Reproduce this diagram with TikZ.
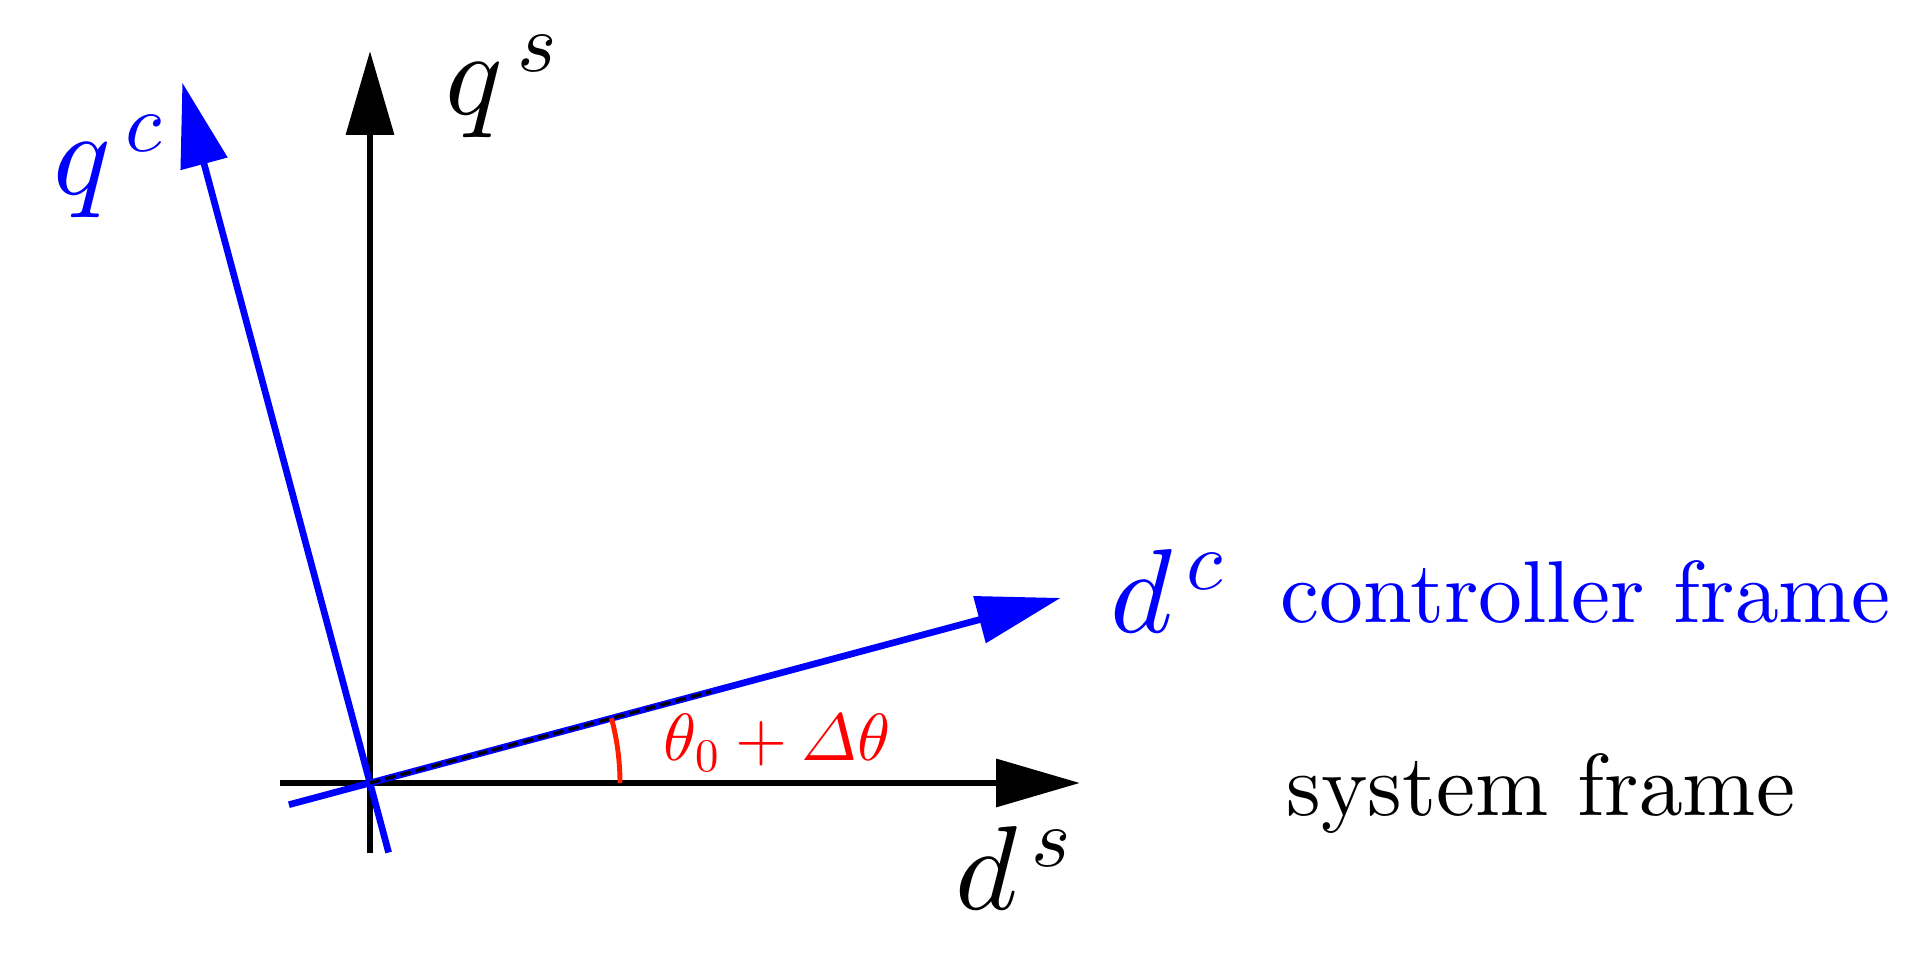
\documentclass[tikz,border=0pt]{standalone}
\usepackage{amsmath, amssymb}
\usepackage[dvipsnames]{xcolor}
\usepackage{tikz}
\usetikzlibrary{positioning}
\usetikzlibrary{calc,arrows.meta}
% scalable Computer Modern shapes
\DeclareFontFamily{OML}{cmm}{\skewchar\font'177}
\DeclareFontShape{OML}{cmm}{m}{it}{<-> cmmi10}{}
\DeclareFontShape{OT1}{cmr}{m}{n}{<-> cmr10}{}
\DeclareFontFamily{OMS}{cmsy}{\skewchar\font'60}
\DeclareFontShape{OMS}{cmsy}{m}{n}{<-> cmsy10}{}
\colorlet{ccol}{blue}
\definecolor{acol}{RGB}{255,30,0}
\tikzset{>=latex}
\tikzset{
  axis/.style={line width=1.9pt, -{Triangle[length=8.4mm,width=4.7mm]}},
  biglab/.style={font=\fontsize{34}{40}\selectfont, inner sep=0pt, anchor=base west},
  framelab/.style={font=\fontencoding{OT1}\fontfamily{cmr}\fontsize{25}{30}\selectfont,
    inner sep=0pt, anchor=base west},
}

\begin{document}
\begin{tikzpicture}[scale=1]
\useasboundingbox (-3.70,-1.70) rectangle (15.54,7.83);

% ---------- System frame ----------
\coordinate (O) at (0,0);
\coordinate (ds0) at (-0.9,0);
\coordinate (ds1) at (7.1,0);
\coordinate (qs0) at (0,-0.7);
\coordinate (qs1) at (0,7.32);
\draw[axis] (ds0) -- (ds1);
\draw[axis] (qs0) -- (qs1);

% ---------- Controller frame ----------
\coordinate (dc0) at (195:0.84);
\coordinate (dc1) at (15:7.15);
\coordinate (qc0) at (285:0.72);
\coordinate (qc1) at (105:7.25);
\draw[axis, ccol] (dc0) -- (dc1);
\draw[axis, ccol] (qc0) -- (qc1);
\coordinate (dcm) at (15:3.53);
\draw[line width=0.9pt, dash pattern=on 3pt off 1.5pt] (O) -- (dcm);

% ---------- Angle ----------
\draw[acol, line width=1.4pt] (2.5,0) arc (0:15:2.5);
\node[font=\fontsize{19}{23}\selectfont, inner sep=0pt, anchor=base west, red]
  (anglab) at (2.93,0.22) {$\theta_0+\varDelta\theta$};

% ---------- Labels ----------
\node[biglab] (qslab) at (0.75,6.68) {$q^{\,s}$};
\node[biglab] (dslab) at (5.85,-1.27) {$d^{\,s}$};
\node[biglab, ccol] (qclab) at (-3.17,5.88) {$q^{\,c}$};
\node[biglab, ccol] (dclab) at (7.40,1.50) {$d^{\,c}$};

\node[framelab, ccol] (ctrl) at (9.10,1.60) {controller frame};
\node[framelab] (sys) at (9.16,-0.33) {system frame};

\end{tikzpicture}
\end{document}
